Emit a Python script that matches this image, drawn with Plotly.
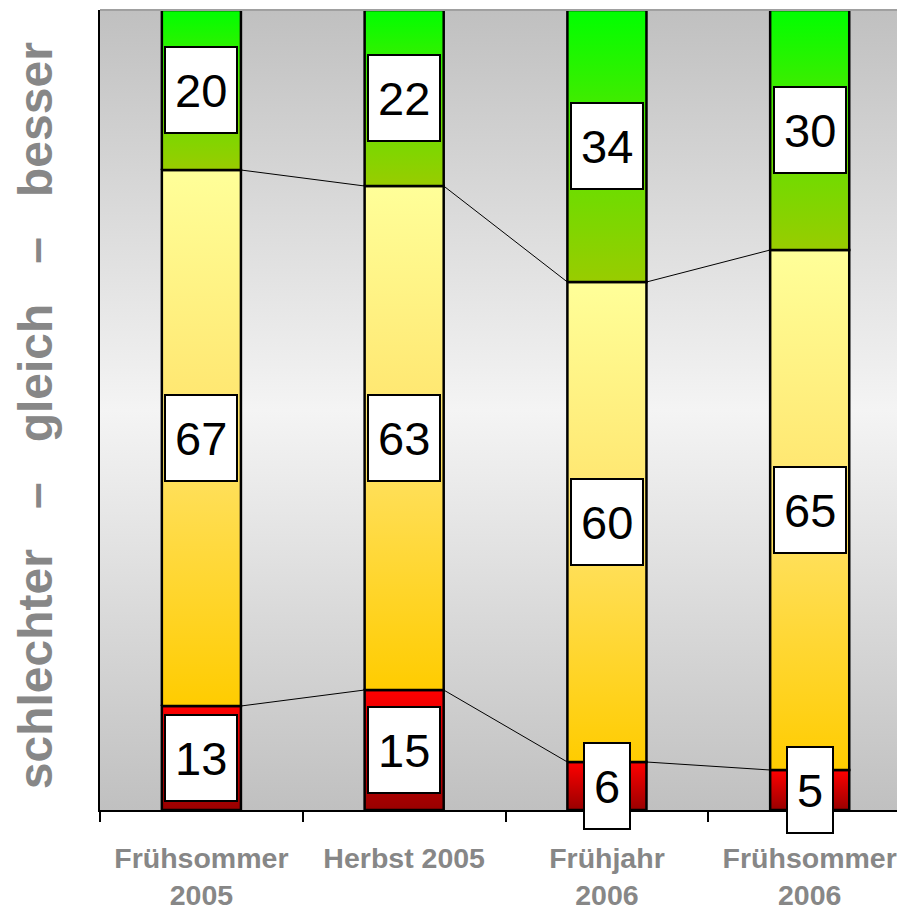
import plotly.graph_objects as go

# ---- data ----
categories = ["Frühsommer<br>2005", "Herbst 2005", "Frühjahr<br>2006", "Frühsommer<br>2006"]
schlechter = [13, 15, 6, 5]
gleich = [67, 63, 60, 65]
besser = [20, 22, 34, 30]
y_title = "schlechter\u00a0\u00a0\u00a0–\u00a0\u00a0\u00a0gleich\u00a0\u00a0\u00a0–\u00a0\u00a0\u00a0besser"

# ---- style ----
BAR_W = 0.39
FONT = "Liberation Sans, Arial, sans-serif"
GRAY = "#878787"
series = [
    ("schlechter", schlechter, [[0, "#990000"], [1, "#FF0000"]]),
    ("gleich", gleich, [[0, "#FFCC00"], [0.5, "#FFE36A"], [1, "#FFFF99"]]),
    ("besser", besser, [[0, "#99CC00"], [0.55, "#55E600"], [1, "#00FF00"]]),
]

n = len(categories)
x_max = n - 0.53

fig = go.Figure()

# plot-area background gradient
fig.add_trace(go.Scatter(
    x=[-0.5, n - 0.5, n - 0.5, -0.5, -0.5], y=[0, 0, 100, 100, 0],
    fill="toself", mode="lines", line=dict(width=0),
    fillgradient=dict(type="vertical", start=0, stop=100,
                      colorscale=[[0, "#C0C0C0"], [0.5, "#F4F4F4"], [1, "#C0C0C0"]]),
    hoverinfo="skip", showlegend=False))

annotations = []
base = [0] * n
cums = []
for name, vals, cs in series:
    for i, v in enumerate(vals):
        b, t = base[i], base[i] + v
        x0, x1 = i - BAR_W / 2, i + BAR_W / 2
        fig.add_trace(go.Scatter(
            x=[x0, x1, x1, x0, x0], y=[b, b, t, t, b],
            fill="toself", mode="lines",
            line=dict(color="black", width=2.5),
            fillgradient=dict(type="vertical", start=b, stop=t, colorscale=cs),
            name=name, showlegend=False, hoverinfo="skip"))
        annotations.append(dict(
            x=i, y=b + v / 2, xref="x", yref="y", text=str(v), showarrow=False,
            font=dict(family=FONT, size=47, color="black"),
            bgcolor="white", bordercolor="black", borderwidth=2, borderpad=9,
            height=66))
    base = [base[i] + vals[i] for i in range(n)]
    cums.append(list(base))

# series lines between bars
for cum in cums[:-1]:
    xs, ys = [], []
    for i in range(n - 1):
        xs += [i + BAR_W / 2, i + 1 - BAR_W / 2, None]
        ys += [cum[i], cum[i + 1], None]
    fig.add_trace(go.Scatter(x=xs, y=ys, mode="lines",
                             line=dict(color="black", width=1),
                             showlegend=False, hoverinfo="skip"))

annotations.append(dict(
    xref="paper", yref="paper", x=-0.08, y=0.493, text=y_title,
    textangle=-90, showarrow=False, xanchor="center", yanchor="middle",
    font=dict(family=FONT, size=48, color=GRAY, weight="bold")))

fig.update_layout(
    width=897, height=907,
    margin=dict(l=92, r=0, t=2, b=105, autoexpand=False),
    paper_bgcolor="white", plot_bgcolor="white",
    showlegend=False,
    annotations=annotations,
    shapes=[dict(type="line", xref="paper", yref="paper", x0=0, x1=1, y0=1, y1=1,
                 line=dict(color="#A0A0A0", width=2))],
    xaxis=dict(
        range=[-0.5, x_max], showgrid=False, zeroline=False,
        tickvals=list(range(n)), ticktext=categories, ticks="",
        tickfont=dict(family=FONT, size=28.5, color=GRAY, weight="bold"),
        showline=True, linecolor="black", linewidth=2,
        ticklabelstandoff=22,
        minor=dict(tickvals=[i - 0.5 for i in range(n)], ticks="outside",
                   ticklen=10, tickwidth=2, tickcolor="black", showgrid=False),
    ),
    yaxis=dict(range=[0, 100], showgrid=False, zeroline=False,
               showticklabels=False, ticks="",
               showline=True, linecolor="black", linewidth=2),
)

fig.write_html("out.html")
